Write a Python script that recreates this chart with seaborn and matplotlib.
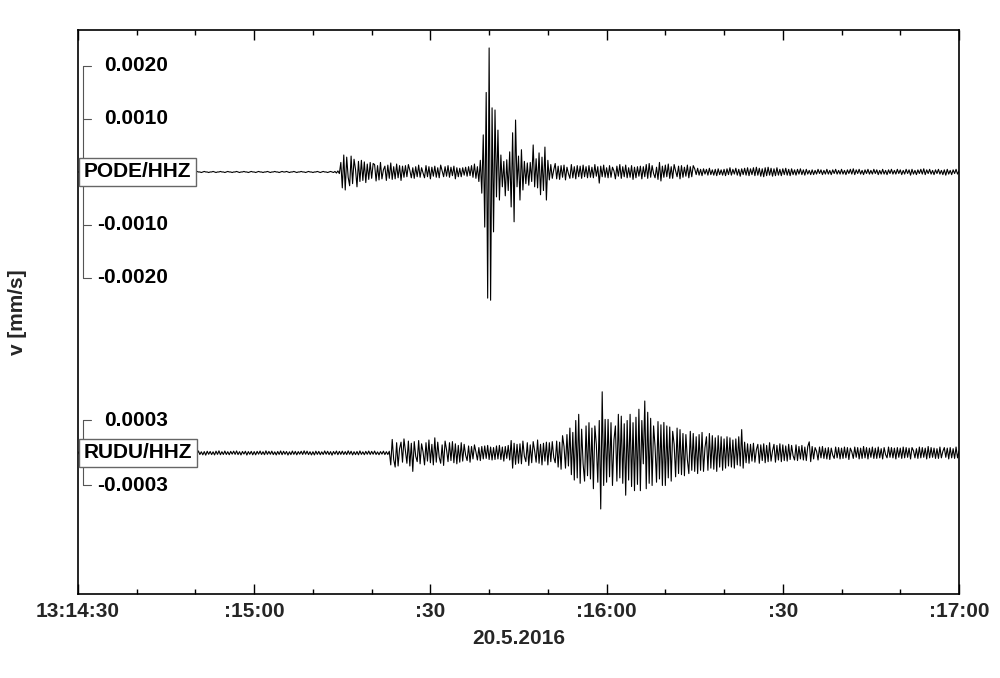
import numpy as np
import pandas as pd
import matplotlib
matplotlib.use("Agg")
import matplotlib.pyplot as plt
import seaborn as sns

# -------------------------------------------------------------------------
# Data (0.25 s sampling of the extrema)
# -------------------------------------------------------------------------

DT = 0.25                       # seconds between samples
DATE_LABEL = "20.5.2016"
Y_LABEL = "v [mm/s]"
XTICKS_MAJOR = [0, 30, 60, 90, 120, 150]
XTICK_LABELS = ["13:14:30", ":15:00", ":30", ":16:00", ":30", ":17:00"]
XTICKS_MINOR = [10, 20, 40, 50, 70, 80, 100, 110, 130, 140]

STATIONS = ["PODE/HHZ", "RUDU/HHZ"]
PODE_UNIT = 1e-5                # mm/s per value unit
RUDU_UNIT = 1e-6
PODE_SCALE_TICKS = [0.0020, 0.0010, -0.0010, -0.0020]
RUDU_SCALE_TICKS = [0.0003, -0.0003]

PODE_VALUES = [
    0, 0, 1, 0, -1, 0, 0, 1, 0, 0, -1, 0, 1, 0, 0, -1, 0, 0, 1, 0,
    -1, 0, 0, 1, 0, -1, 0, 0, 1, 0, 0, -1, 0, 1, 0, 0, -1, 0, 0, 1,
    0, 0, -1, 0, 1, 0, 0, -1, 0, 1, 0, 0, -1, 0, 0, 1, 0, -1, 0, 0,
    1, 0, 0, -1, 0, 0, 1, 0, -1, 0, 1, 0, 0, -1, 0, 0, 1, 0, 0, -1,
    0, 1, 0, 0, -1, 0, 1, 0, 0, -1, 0, 0, 1, 0, -1, 0, 0, 1, 0, 0,
    -1, 0, 1, 0, 0, -1, 0, 0, 1, 0, -1, 0, 0, 1, 0, 0, -1, 0, 1, 0,
    0, -1, 0, 1, 0, 0, -1, 0, 0, 1, 0, -1, 0, 0, 1, 0, 0, -1, 0, 1,
    0, 0, 1, 0, -1, 0, 0, 1, 0, -1, 0, 0, 1, 0, 0, -1, 0, 1, 0, 0,
    -1, 0, 0, 1, 0, -1, 0, 1, 0, 0, -1, 0, 1, 0, -1, 1, -2, 2, -3, 18,
    -30, 32, -34, 28, -10, -26, 30, -22, 24, 5, -28, 20, -18, 22, -16, 19, -20, 15, -14, 18,
    -12, 16, 14, -17, 12, -15, 18, -13, 4, 11, -16, 13, -12, 17, -14, 10, -13, 15, -11, 12,
    -16, 11, -10, 12, -9, 14, 3, -11, 8, -12, 10, -9, 13, -10, 8, -2, -11, 12, -9, 10,
    -13, 9, -8, 11, -10, 8, -11, 13, 2, -9, 10, -8, 12, -10, 9, -7, 11, -13, 8, -9,
    7, -9, 8, -6, 9, -8, 10, -7, 12, -10, 15, -12, 10, -18, 22, -40, 70, -104, 150, -238,
    234, -242, 121, -113, 117, -47, 79, -53, 32, -28, 20, -45, 23, -35, 38, -66, 74, -94, 98, -28,
    30, -53, 42, -34, 20, -22, 17, -25, 18, -18, 51, -28, 25, -30, 36, -43, 28, -35, 47, -53,
    22, -15, 14, -12, 4, 16, -13, 11, -14, 12, -10, 13, -15, 9, -3, -12, 14, -11, 10, -13,
    12, -9, 11, -12, 13, -9, 10, -11, 12, -10, 9, -11, 14, -8, 10, -21, 11, -9, 13, -10,
    8, -11, 12, -10, 9, 2, -13, 11, -8, 14, -12, 10, -9, 13, -11, 8, -10, 12, -14, 9,
    -11, 10, -8, 11, -13, 10, -9, 14, -12, 16, -10, 12, -3, -11, 9, -14, 18, -17, 11, -10,
    13, -9, 15, -12, 10, -12, 14, 2, -9, 11, -13, 12, -10, 9, -8, 13, -11, 10, -9, 12,
    6, -5, 7, -6, 5, -7, 6, -4, 5, -6, 7, -5, 4, -6, 5, -7, 6, -5, 4, -6,
    5, -7, 6, -5, 8, -6, 5, -4, 7, -6, 5, -8, 6, -5, 7, -6, 8, -7, 6, -5,
    8, -7, 9, -6, 7, -8, 6, -9, 8, -7, 9, -6, 7, -8, 6, -7, 8, -6, 5, -7,
    6, -5, 7, -6, 5, -7, 6, -5, 4, -6, 5, -4, 6, -5, 4, -6, 5, -4, 3, -5,
    4, -5, 3, -4, 5, -3, 4, -5, 3, -4, 5, -4, 3, -5, 4, -3, 5, -4, 3, -4,
    5, -4, 3, -5, 4, -3, 5, -4, 6, -5, 4, -3, 5, -4, 3, -5, 4, -3, 5, -4,
    3, -4, 5, -3, 4, -5, 3, -4, 5, -4, 3, -5, 4, -3, 5, -4, 3, -4, 5, -3,
    4, -5, 3, -4, 5, -3, 4, -6, 5, -4, 3, -5, 4, -3, 5, -4, 6, -5, 4, -3,
    5, -4, 3, -5, 4, -3, 5, -4, 3, -5, 4, -6, 5, -4, 3, -5, 4, -3, 5, -4,
    2,
]

RUDU_VALUES = [
    12, -15, 18, -10, 14, -20, 11, -16, 19, -12, 15, -18, 10, -14, 20, -11, 16, -13, 18, -15,
    14, -11, 17, -19, 12, -15, 20, -13, 11, -17, 15, -12, 18, -14, 10, -16, 13, -20, 15, -12,
    16, -13, 11, -18, 14, -12, 19, -15, 13, -10, 17, -14, 12, -19, 15, -11, 18, -13, 16, -17,
    11, -16, 14, -12, 20, -15, 13, -18, 10, -14, 16, -12, 19, -11, 15, -17, 12, -14, 18, -10,
    15, -12, 19, -14, 11, -17, 13, -20, 16, -12, 14, -15, 11, -18, 17, -13, 20, -16, 12, -14,
    18, -14, 12, -16, 15, -11, 17, -13, 19, -15, 12, -18, 14, -10, 16, -19, 13, -12, 15, -17,
    13, -17, 15, -11, 18, -14, 12, -16, 20, -13, 15, -12, 17, -15, 11, -18, 14, -13, 19, -16,
    16, -12, 14, -19, 11, -15, 18, -13, 15, -17, 13, -11, 16, -14, 20, -12, 17, -15, 12, -18,
    12, -18, 17, -13, 15, -16, 11, -14, 19, -12, 16, -15, 13, -20, 14, -11, 18, -16, 15, -13,
    17, -14, 13, -15, 20, -12, 16, -18, 12, -15, 14, -17, 19, -13, 11, -16, 15, -12, 18, -14,
    15, -12, 18, -14, 10, -16, 13, -11, 17, -15, 12, -14, 16, -110, 125, -60, -130, 95, -120, 40,
    100, -85, 130, 20, -95, 110, -120, 90, -170, 105, -30, -80, 115, -100, 85, 10, -110, 95, -75, 120,
    -90, 80, -110, 140, -85, 100, -40, -95, 75, -115, 110, 30, -80, 95, -70, 105, -90, 85, -100, 70,
    -85, 95, -75, 80, -20, -70, 65, -85, 60, -55, 75, 10, -65, 50, -70, 60, -55, 65, -50, 70,
    -60, 55, -65, 50, -60, 65, -55, 70, -60, 55, -75, 60, -50, 70, -65, 115, -140, 90, -105, 80,
    -95, 85, -100, 110, -30, -80, 95, -115, 75, -90, 105, 20, -85, 120, -95, 80, -110, 90, -75, 100,
    -110, 95, -80, 105, -40, -90, 110, -130, 100, -150, 160, 60, -140, 170, -120, 230, -200, 190, -250, 300,
    -230, 357, -280, 220, -100, -260, 250, -210, 280, -240, 230, -330, 250, 80, -270, 300, -517, 565, -300, 310,
    -270, 310, -220, 280, -300, 120, 250, -260, 357, -230, 340, -280, 270, -390, 300, -250, 357, -310, 280, -348,
    330, -290, 404, -348, 300, -100, 480, -330, 376, -280, 320, -300, 250, 60, -270, 290, -240, 260, -300, 282,
    -300, 250, -230, 240, -260, 200, 80, -220, 230, -190, 216, -200, 180, -210, 170, -60, -190, 200, -160, 180,
    -170, 150, -190, 170, -160, 190, -170, 50, 150, -160, 180, -140, 160, -150, 140, -170, 160, -130, 150, -160,
    130, -140, 150, -120, 140, -130, 120, -140, 130, -110, 150, -120, 216, -140, 100, -90, 85, -95, 80, -75,
    90, -85, 30, 80, -95, 75, -70, 85, -90, 70, -80, 95, -75, 20, 80, -85, 70, -65, 85, -80,
    75, -70, 65, -75, 80, -60, 70, -25, -65, 75, -70, 60, -55, 70, -65, 55, -70, 60, 103, -80,
    60, -55, 50, 15, -65, 55, -45, 60, -50, 45, -55, 50, -60, 45, -20, -50, 55, -45, 50, -55,
    45, -50, 55, -45, 50, -60, 45, 10, -50, 55, -40, 50, -55, 45, -50, 60, -45, 50, -55, 45,
    -40, 55, -50, 45, -50, 55, -45, 40, -55, 50, -15, -45, 55, -40, 50, -45, 45, -55, 50, -40,
    45, -50, 55, -45, 50, -40, 45, -55, 50, 20, -45, 40, -50, 55, -45, 50, -40, 45, -55, 60,
    -45, 50, -40, 45, -50, 40, -50, 55, -45, 15, 50, -40, 45, -55, 50, -45, 40, -50, 55, -45,
    20,
]

# -------------------------------------------------------------------------
# Layout (trace offsets / gains in plot units, 564 units = axes height)
# -------------------------------------------------------------------------

Y_MAX = 564
TRACES = {
    "PODE/HHZ": dict(values=PODE_VALUES, unit=PODE_UNIT, base=422, gain=53000,
                     ticks=PODE_SCALE_TICKS),
    "RUDU/HHZ": dict(values=RUDU_VALUES, unit=RUDU_UNIT, base=141, gain=108300,
                     ticks=RUDU_SCALE_TICKS),
}

sns.set_theme(style="ticks")
plt.rcParams["font.family"] = ["Liberation Sans", "DejaVu Sans"]
plt.rcParams["font.weight"] = "bold"

fig = plt.figure(figsize=(10, 6.78), dpi=100)
ax = fig.add_axes([0.078, 0.1239, 0.881, 0.8319])

for name in STATIONS:
    tr = TRACES[name]
    v = np.array(tr["values"], dtype=float) * tr["unit"]
    df = pd.DataFrame({"t": np.arange(len(v)) * DT,
                       "y": tr["base"] + v * tr["gain"]})
    sns.lineplot(data=df, x="t", y="y", ax=ax, color="black", linewidth=0.8,
                 estimator=None, sort=False, zorder=2)

    # scale bracket on the left
    ytr = ax.get_yaxis_transform()
    yvals = [tr["base"] + t * tr["gain"] for t in tr["ticks"]]
    ax.plot([0.0057, 0.0057], [min(yvals), max(yvals)], transform=ytr,
            color="#555555", lw=0.8, zorder=3)
    for t, yv in zip(tr["ticks"], yvals):
        ax.plot([0.0057, 0.0145], [yv, yv], transform=ytr,
                color="#555555", lw=0.8, zorder=3)
        ax.text(0.1022, yv, f"{t:.4f}", transform=ytr, ha="right", va="center",
                fontsize=15, fontweight="bold", color="black")

    # station label box
    ax.text(0.0062, tr["base"], name, transform=ytr, ha="left", va="center",
            fontsize=15, fontweight="bold", color="black", zorder=5,
            bbox=dict(boxstyle="square,pad=0.22", fc="white", ec="#666666", lw=1))

ax.set_xlim(0, 150)
ax.set_ylim(0, Y_MAX)
ax.set_yticks([])
ax.set_xticks(XTICKS_MAJOR)
ax.set_xticklabels(XTICK_LABELS, fontsize=15, fontweight="bold")
ax.set_xticks(XTICKS_MINOR, minor=True)
ax.tick_params(axis="x", which="both", direction="in", top=True, bottom=True,
               color="black", width=1, pad=6)
ax.tick_params(axis="x", which="major", length=7)
ax.tick_params(axis="x", which="minor", length=3.5)
for sp in ax.spines.values():
    sp.set_visible(True)
    sp.set_color("black")
    sp.set_linewidth(1.2)

ax.set_xlabel(DATE_LABEL, fontsize=15, fontweight="bold")
ax.xaxis.set_label_coords(0.5, -0.062)
ax.set_ylabel(Y_LABEL, fontsize=15, fontweight="bold")
ax.yaxis.set_label_coords(-0.058, 0.5)

fig.savefig("out.png", dpi=100)
plt.close(fig)
